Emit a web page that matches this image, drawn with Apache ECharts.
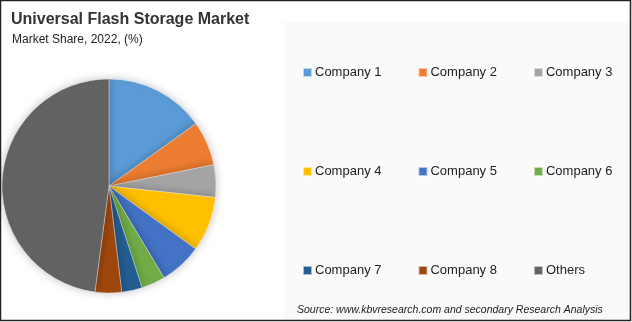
<!DOCTYPE html>
<html>
<head>
<meta charset="utf-8">
<script src="https://cdn.jsdelivr.net/npm/echarts@6/dist/echarts.min.js"></script>
<style>
html,body{margin:0;padding:0;background:#fff;}
#c{width:632px;height:322px;}
</style>
</head>
<body>
<div id="c"></div>
<script>
const categories = ['Company 1','Company 2','Company 3','Company 4','Company 5','Company 6','Company 7','Company 8','Others'];
const shares = [15.1, 6.7, 4.9, 8.3, 6.4, 3.6, 3.1, 4.0, 47.9];
const colors = ['#5B9BD5','#ED7D31','#A5A5A5','#FFC000','#4472C4','#70AD47','#255E91','#9E480E','#636363'];
const legendRows = [categories.slice(0,3), categories.slice(3,6), categories.slice(6,9)];

const chart = echarts.init(document.getElementById('c'), null, {renderer:'canvas'});
const font = 'Liberation Sans, Arial, sans-serif';
const rowTops = [66, 165, 264];
const legends = legendRows.map((row, i) => ({
  data: row,
  orient: 'horizontal',
  left: 302,
  top: rowTops[i],
  itemWidth: 9,
  itemHeight: 9,
  itemGap: 36,
  icon: 'rect',
  padding: 0,
  textStyle: {fontFamily: font, fontSize: 13, color: '#222', padding: [0,0,0,-2]}
}));

chart.setOption({
  animation: false,
  color: colors,
  title: [
    {text: 'Universal Flash Storage Market', left: 11, top: 12, padding: 0,
     textStyle: {fontFamily: font, fontWeight: 'bold', fontSize: 16, color: '#333'}},
    {text: 'Market Share, 2022, (%)', left: 12, top: 34, padding: 0,
     textStyle: {fontFamily: font, fontWeight: 'normal', fontSize: 12, color: '#222'}}
  ],
  graphic: [
    {type: 'rect', shape: {x: 284, y: 22, width: 346, height: 298}, style: {fill: '#fafafa'}, z: -10, silent: true},
    {type: 'rect', shape: {x: 0.5, y: 0.5, width: 630, height: 320}, style: {fill: 'none', stroke: '#222', lineWidth: 1.5}, z: 100, silent: true},
    {type: 'text', left: 297, top: 305, z: 10,
     style: {text: 'Source: www.kbvresearch.com and secondary Research Analysis', fontFamily: font, fontStyle: 'italic', fontSize: 10.5, fill: '#222'}}
  ],
  legend: legends,
  series: [{
    type: 'pie',
    center: [109, 186],
    radius: 107,
    startAngle: 90,
    clockwise: true,
    label: {show: false},
    labelLine: {show: false},
    emphasis: {disabled: true},
    itemStyle: {borderColor: 'rgba(255,255,255,0.6)', borderWidth: 0.6, shadowBlur: 10, shadowColor: 'rgba(0,0,0,0.25)'},
    data: categories.map((c, i) => ({name: c, value: shares[i]}))
  }]
});
</script>
</body>
</html>
